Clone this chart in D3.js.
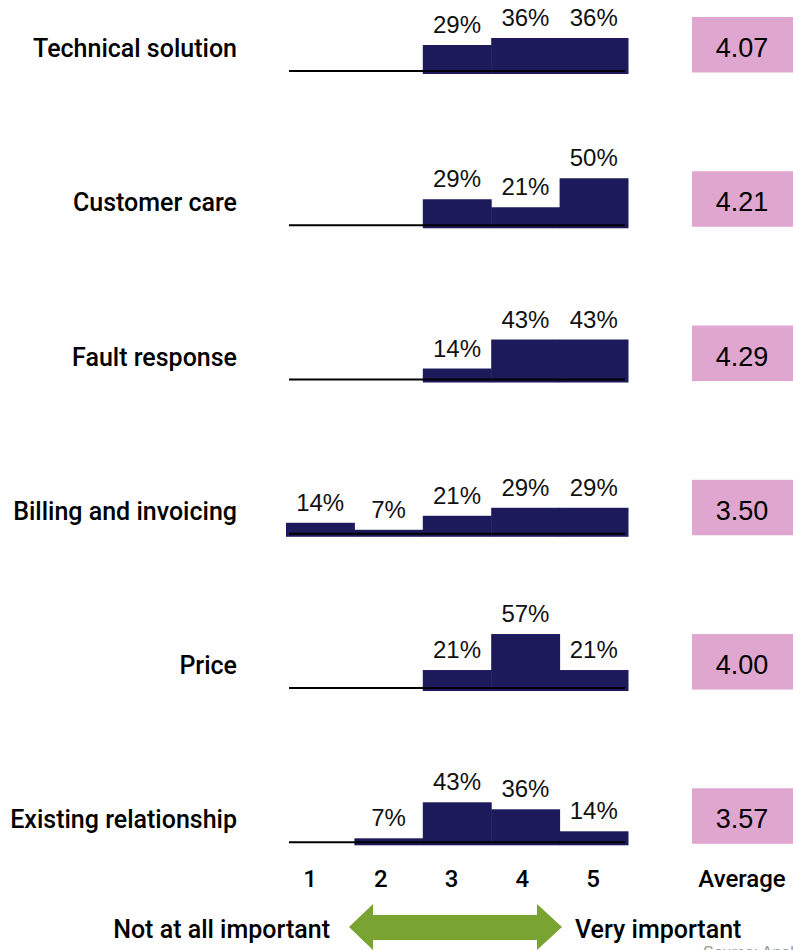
<!DOCTYPE html>
<html>
<head>
<meta charset="utf-8">
<script src="https://cdn.jsdelivr.net/npm/d3@7"></script>
<style>
  html, body { margin: 0; padding: 0; background: #fff; }
  svg { display: block; }
</style>
</head>
<body>
<svg id="chart" width="793" height="950"></svg>
<script>
const categories = ["Technical solution", "Customer care", "Fault response", "Billing and invoicing", "Price", "Existing relationship"];
const scores = [1, 2, 3, 4, 5];
const shares = [
  [0, 0, 29, 36, 36],
  [0, 0, 29, 21, 50],
  [0, 0, 14, 43, 43],
  [14, 7, 21, 29, 29],
  [0, 0, 21, 57, 21],
  [0, 7, 43, 36, 14]
];
const averages = ["4.07", "4.21", "4.29", "3.50", "4.00", "3.57"];
const averageLabel = "Average";
const leftLabel = "Not at all important";
const rightLabel = "Very important";
const sourceText = "Source: Analysys Mason";

const NAVY = "#1c1a5b", PINK = "#dfa7cf", GREEN = "#7aa432";
const labelFont = "Roboto, 'Liberation Sans', Arial, sans-serif";
const numFont = "'Liberation Sans', Arial, sans-serif";

const svg = d3.select("#chart");
svg.append("rect").attr("width", 793).attr("height", 950).attr("fill", "#fff");

const x = d3.scaleBand().domain(scores).range([286, 628]).padding(0);
const row = d3.scalePoint().domain(categories).range([71, 842.3]);
const h = d3.scaleLinear().domain([0, 100]).range([0, 100]);
const tickX = d3.scalePoint().domain(scores).range([310, 593]);

categories.forEach((cat, i) => {
  const base = row(cat);
  const bottom = base + 3;
  const g = svg.append("g");
  const vals = shares[i].map((v, j) => ({ s: scores[j], v }));
  g.selectAll("rect.bar").data(vals.filter(d => d.v > 0)).enter().append("rect")
    .attr("class", "bar")
    .attr("x", d => x(d.s))
    .attr("width", x.bandwidth() + 0.5)
    .attr("y", d => bottom - h(d.v))
    .attr("height", d => h(d.v))
    .attr("fill", NAVY);
  g.append("line")
    .attr("x1", 289).attr("x2", 625)
    .attr("y1", base).attr("y2", base)
    .attr("stroke", "#000").attr("stroke-width", 2);
  g.selectAll("text.pct").data(vals.filter(d => d.v > 0)).enter().append("text")
    .attr("class", "pct")
    .attr("x", d => x(d.s) + x.bandwidth() / 2)
    .attr("y", d => bottom - h(d.v) - 12)
    .attr("text-anchor", "middle")
    .attr("font-family", numFont)
    .attr("font-size", 24)
    .attr("fill", "#111")
    .text(d => d.v + "%");
  // category label
  svg.append("text")
    .attr("x", 237).attr("y", base - 14)
    .attr("text-anchor", "end")
    .attr("font-family", labelFont)
    .attr("font-weight", 500)
    .attr("font-size", 25)
    .attr("fill", "#000")
    .text(cat);
  // average box
  svg.append("rect")
    .attr("x", 692).attr("y", base - 54)
    .attr("width", 110).attr("height", 55.5)
    .attr("fill", PINK);
  svg.append("text")
    .attr("x", 742).attr("y", base - 14)
    .attr("text-anchor", "middle")
    .attr("font-family", numFont)
    .attr("font-size", 27)
    .attr("fill", "#000")
    .text(averages[i]);
});

// axis numbers
svg.selectAll("text.tick").data(scores).enter().append("text")
  .attr("class", "tick")
  .attr("x", d => tickX(d)).attr("y", 887)
  .attr("text-anchor", "middle")
  .attr("font-family", labelFont)
  .attr("font-weight", 500)
  .attr("font-size", 24)
  .attr("fill", "#000")
  .text(d => d);

svg.append("text")
  .attr("x", 742).attr("y", 887)
  .attr("text-anchor", "middle")
  .attr("font-family", labelFont)
  .attr("font-weight", 500)
  .attr("font-size", 24)
  .attr("fill", "#000")
  .text(averageLabel);

// arrow
const arrow = d3.path();
arrow.moveTo(349, 927);
arrow.lineTo(373, 904);
arrow.lineTo(373, 915);
arrow.lineTo(537, 915);
arrow.lineTo(537, 904);
arrow.lineTo(562, 927);
arrow.lineTo(537, 950);
arrow.lineTo(537, 940);
arrow.lineTo(373, 940);
arrow.lineTo(373, 950);
arrow.closePath();
svg.append("path").attr("d", arrow.toString()).attr("fill", GREEN);

svg.append("text")
  .attr("x", 330).attr("y", 938)
  .attr("text-anchor", "end")
  .attr("font-family", labelFont)
  .attr("font-weight", 500)
  .attr("font-size", 25)
  .attr("fill", "#000")
  .text(leftLabel);
svg.append("text")
  .attr("x", 575).attr("y", 938)
  .attr("text-anchor", "start")
  .attr("font-family", labelFont)
  .attr("font-weight", 500)
  .attr("font-size", 25)
  .attr("fill", "#000")
  .text(rightLabel);

svg.append("text")
  .attr("x", 703).attr("y", 958)
  .attr("font-family", numFont)
  .attr("font-size", 16)
  .attr("fill", "#999")
  .text(sourceText);
</script>
</body>
</html>
